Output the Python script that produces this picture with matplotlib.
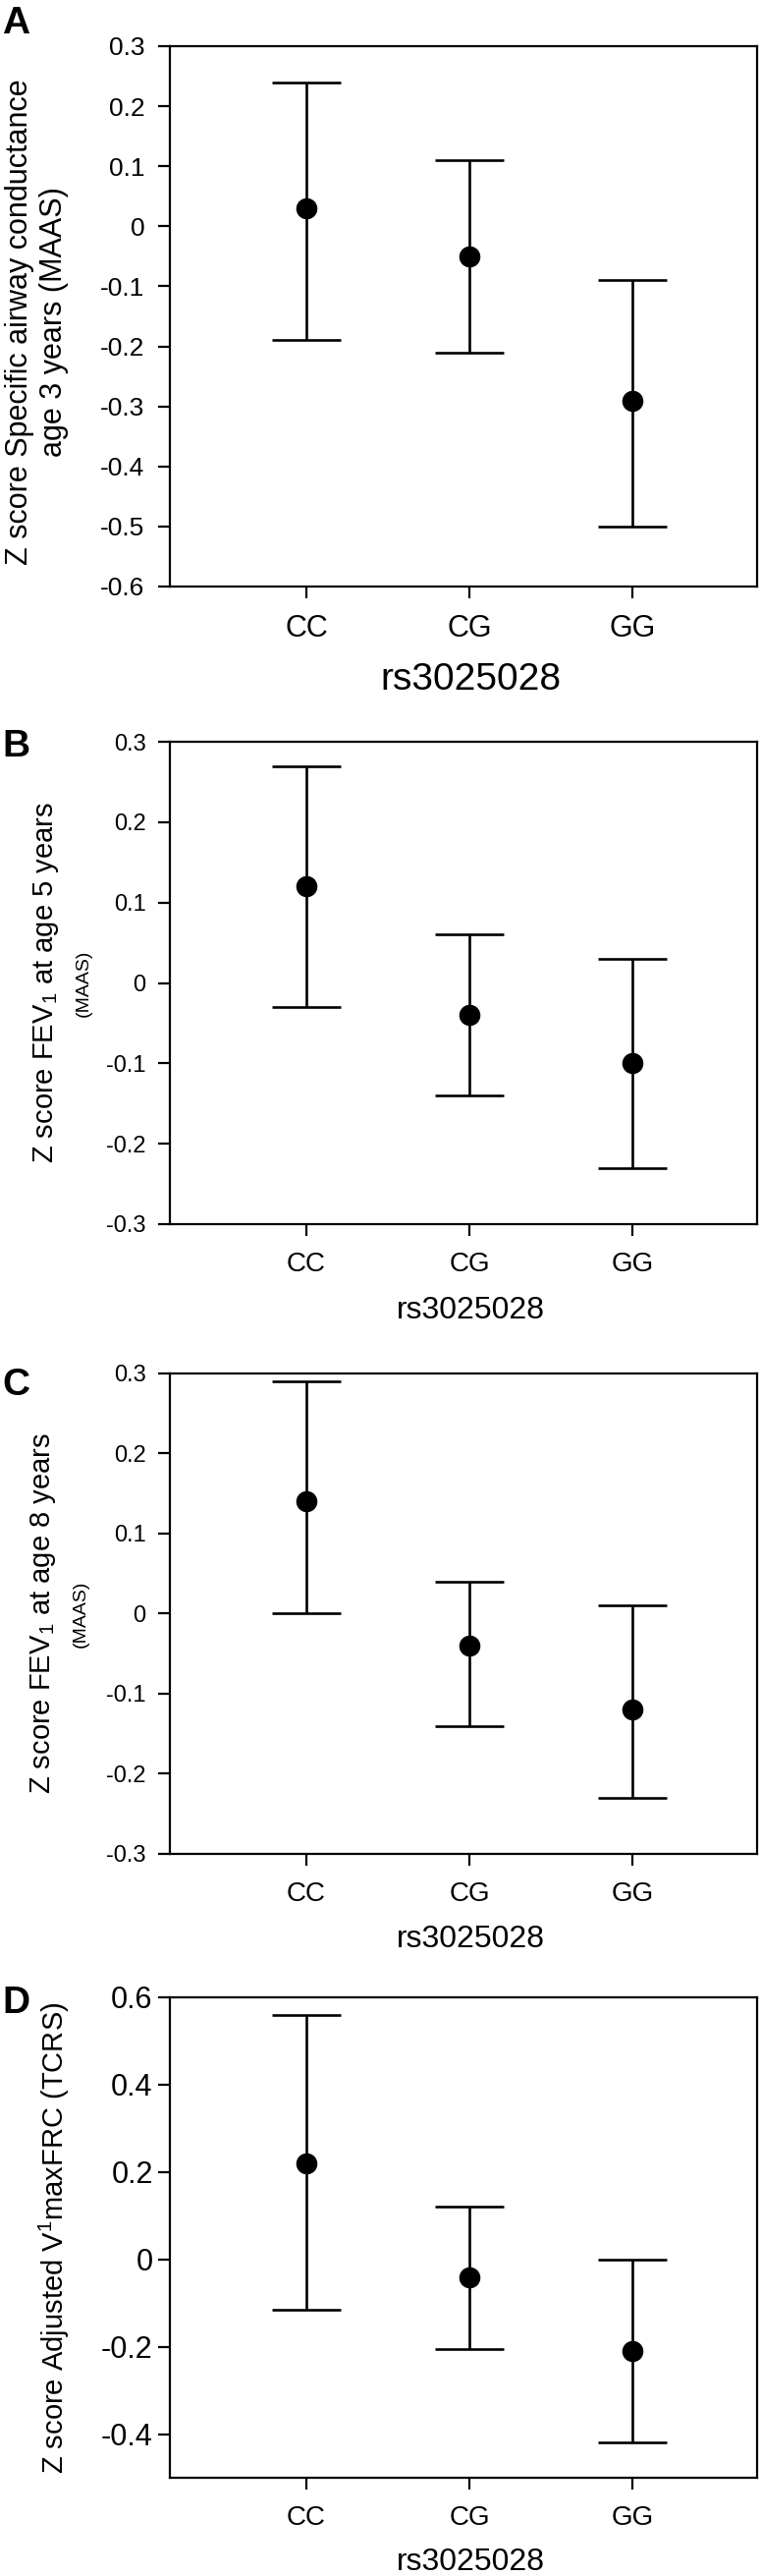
import matplotlib
matplotlib.use("Agg")
import matplotlib.pyplot as plt

plt.rcParams["font.family"] = ["Liberation Sans", "DejaVu Sans"]
plt.rcParams["mathtext.fontset"] = "custom"
plt.rcParams["mathtext.rm"] = "Liberation Sans"
plt.rcParams["mathtext.it"] = "Liberation Sans:italic"
plt.rcParams["mathtext.bf"] = "Liberation Sans:bold"

genotypes = ["CC", "CG", "GG"]
xlabel_text = "rs3025028"

# panel A - specific airway conductance, age 3 (MAAS)
a_mean = [0.03, -0.05, -0.29]
a_low = [-0.19, -0.21, -0.50]
a_high = [0.24, 0.11, -0.09]
a_yticks = [0.3, 0.2, 0.1, 0.0, -0.1, -0.2, -0.3, -0.4, -0.5, -0.6]

# panel B - FEV1 age 5 (MAAS)
b_mean = [0.12, -0.04, -0.10]
b_low = [-0.03, -0.14, -0.23]
b_high = [0.27, 0.06, 0.03]
b_yticks = [0.3, 0.2, 0.1, 0.0, -0.1, -0.2, -0.3]

# panel C - FEV1 age 8 (MAAS)
c_mean = [0.14, -0.04, -0.12]
c_low = [0.00, -0.14, -0.23]
c_high = [0.29, 0.04, 0.01]
c_yticks = [0.3, 0.2, 0.1, 0.0, -0.1, -0.2, -0.3]

# panel D - adjusted V'maxFRC (TCRS)
d_mean = [0.22, -0.04, -0.21]
d_low = [-0.115, -0.205, -0.42]
d_high = [0.56, 0.12, 0.0]
d_yticks = [0.6, 0.4, 0.2, 0.0, -0.2, -0.4]

W, H = 775, 2622
fig = plt.figure(figsize=(W / 100, H / 100), dpi=100)


def px_axes(top, bottom, left=173, right=771):
    return fig.add_axes([left / W, 1 - bottom / H, (right - left) / W, (bottom - top) / H])


def tick_fmt(v):
    if abs(v) < 1e-9:
        return "0"
    return f"{v:.1f}"


def draw_panel(ax, mean, low, high, yticks, ylim, ytick_size, xtick_size,
               xlabel_size, xlabel_y, ytick_pad):
    x = [1, 2, 3]
    err = [[m - lo for m, lo in zip(mean, low)],
           [hi - m for m, hi in zip(mean, high)]]
    ax.errorbar(x, mean, yerr=err, fmt="o", color="black", markersize=14.5,
                elinewidth=1.9, capsize=25, capthick=1.9)
    ax.set_xlim(0.163, 3.765)
    ax.set_ylim(*ylim)
    ax.set_xticks(x)
    ax.set_xticklabels(genotypes, fontsize=xtick_size)
    ax.set_yticks(yticks)
    ax.set_yticklabels([tick_fmt(v) for v in yticks], fontsize=ytick_size)
    ax.tick_params(axis="both", direction="out", length=8.5, width=1.6)
    ax.tick_params(axis="x", pad=12)
    ax.tick_params(axis="y", pad=ytick_pad)
    for sp in ax.spines.values():
        sp.set_linewidth(1.6)
    ax.set_xlabel(xlabel_text, fontsize=xlabel_size)
    ax.xaxis.label.set_va("center")
    ax.xaxis.set_label_coords(0.513, xlabel_y)


# panel A
axA = px_axes(47, 597)
draw_panel(axA, a_mean, a_low, a_high, a_yticks, (-0.6, 0.3), 19, 22, 28, -0.1727, 10)
axA.text((20 - 173) / 598, 0.49, "Z score Specific airway conductance",
         transform=axA.transAxes, rotation=90, ha="center", va="center", fontsize=22)
axA.text((55 - 173) / 598, 0.49, "age 3 years (MAAS)",
         transform=axA.transAxes, rotation=90, ha="center", va="center", fontsize=22)

# panel B
axB = px_axes(755, 1246)
draw_panel(axB, b_mean, b_low, b_high, b_yticks, (-0.3, 0.3), 17, 20, 23, -0.179, 9)
axB.text((47 - 173) / 598, 0.5, "Z score FEV$_1$ at age 5 years",
         transform=axB.transAxes, rotation=90, ha="center", va="center", fontsize=21)
axB.text((85 - 173) / 598, 0.5, "(MAAS)",
         transform=axB.transAxes, rotation=90, ha="center", va="center", fontsize=14)

# panel C
axC = px_axes(1398, 1887)
draw_panel(axC, c_mean, c_low, c_high, c_yticks, (-0.3, 0.3), 17, 20, 23, -0.178, 9)
axC.text((44 - 173) / 598, 0.5, "Z score FEV$_1$ at age 8 years",
         transform=axC.transAxes, rotation=90, ha="center", va="center", fontsize=21)
axC.text((82 - 173) / 598, 0.5, "(MAAS)",
         transform=axC.transAxes, rotation=90, ha="center", va="center", fontsize=14)

# panel D
axD = px_axes(2033, 2522)
draw_panel(axD, d_mean, d_low, d_high, d_yticks, (-0.5, 0.6), 22, 20, 23, -0.176, 4)
axD.text((55 - 173) / 598, 0.5, "Z score Adjusted V$^{1}$maxFRC (TCRS)",
         transform=axD.transAxes, rotation=90, ha="center", va="center", fontsize=21)

# panel letters
for letter, ytop in [("A", 6), ("B", 742), ("C", 1392), ("D", 2021)]:
    fig.text(2 / W, 1 - ytop / H, letter, fontsize=28, fontweight="bold",
             ha="left", va="top")

fig.savefig("out.png", dpi=100)
